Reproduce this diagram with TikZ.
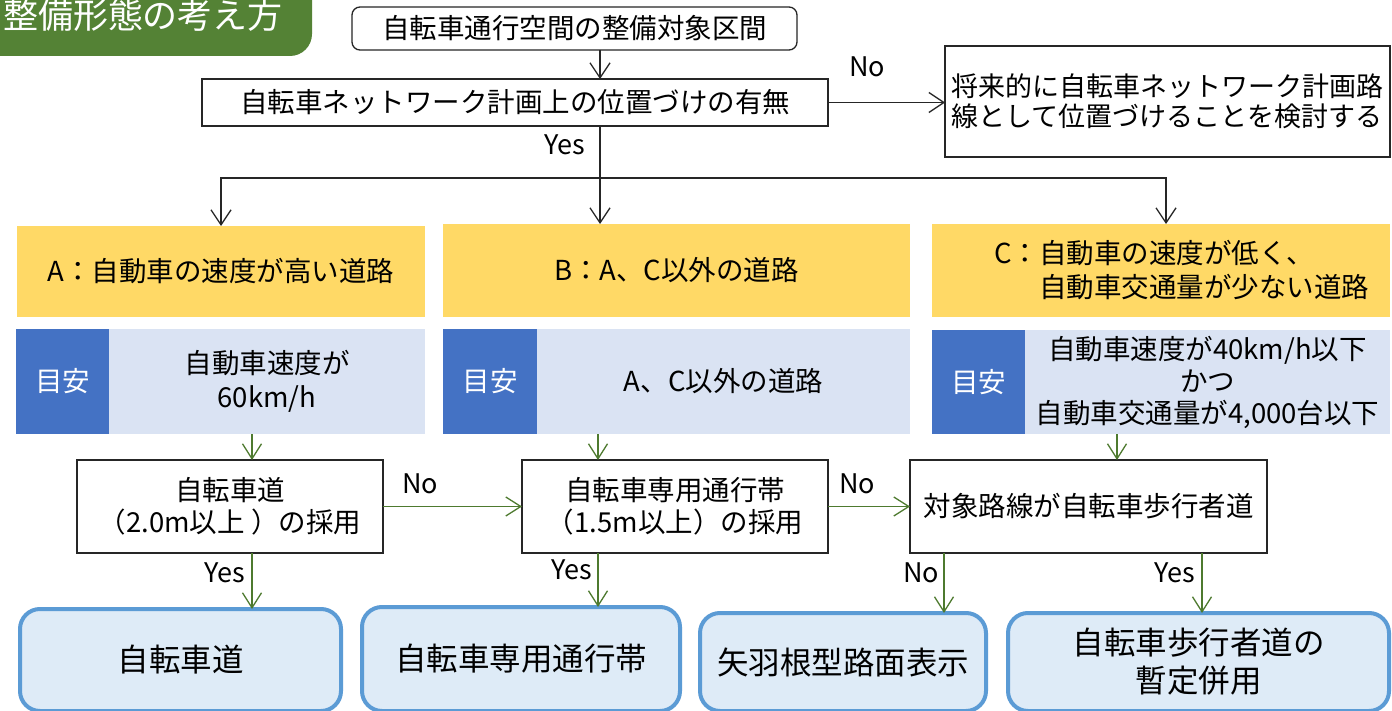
\documentclass[tikz,border=0pt]{standalone}
\usepackage{fontspec}
\setmainfont{Noto Sans CJK JP}
\usetikzlibrary{arrows.meta,calc}
\definecolor{tgreen}{HTML}{548235}
\definecolor{ayellow}{HTML}{FFD966}
\definecolor{dblue}{HTML}{4472C4}
\definecolor{lblue}{HTML}{DAE3F3}
\definecolor{rfill}{HTML}{DEEBF7}
\definecolor{rborder}{HTML}{5B9BD5}
\definecolor{agreen}{HTML}{4E7A2F}
\begin{document}
\begin{tikzpicture}[x=1pt,y=-1pt,
  every node/.style={inner sep=0pt, outer sep=0pt},
  txt/.style={font=\fontsize{27.5}{32}\selectfont, align=center},
  wbox/.style={draw=black!85, line width=1.3pt, fill=white, txt},
  ybox/.style={fill=ayellow, txt},
  dbox/.style={fill=dblue, text=white, txt},
  lbox/.style={fill=lblue, txt},
  rbox/.style={draw=rborder, line width=4pt, fill=rfill, rounded corners=20pt, font=\fontsize{31.5}{38}\selectfont, align=center},
  lab/.style={font=\fontsize{27}{30}\selectfont},
  karr/.style={draw=black!85, line width=1.3pt, -{Straight Barb[length=15pt,width=20pt]}},
  garr/.style={draw=agreen, line width=1.3pt, -{Straight Barb[length=15pt,width=19pt]}},
]
\useasboundingbox (0,0) rectangle (1392,711);
\clip (0,0) rectangle (1392,711);
\fill[white] (0,0) rectangle (1392,711);

% title
\node[fill=tgreen, rounded corners=22pt, minimum width=342pt, minimum height=86pt] (title) at (141,13) {};
\node[text=white, font=\fontsize{35}{40}\selectfont] (ttext) at (143,15) {整備形態の考え方};

% top flow
\node[wbox, rounded corners=8pt, minimum width=445pt, minimum height=43pt] (top) at (574.5,28.5) {自転車通行空間の整備対象区間};
\node[wbox, minimum width=626pt, minimum height=47pt] (net) at (515,102.5) {自転車ネットワーク計画上の位置づけの有無};
\node[wbox, minimum width=445pt, minimum height=111pt, align=left, font=\fontsize{27}{30}\selectfont] (fut) at (1167.5,101.5) {将来的に自転車ネットワーク計画路\\線として位置づけることを検討する};

% categories
\node[ybox, minimum width=408pt, minimum height=91pt] (A) at (221,271.5) {A：自動車の速度が高い道路};
\node[ybox, minimum width=467pt, minimum height=93pt] (B) at (676.5,270.5) {B：A、C以外の道路};
\node[ybox, minimum width=458pt, minimum height=93pt] (C) at (1161,270.5) {};
\node[txt, font=\fontsize{27.5}{34}\selectfont, anchor=west, align=left] (Ct) at ($(C.west)+(62,0)$) {C：自動車の速度が低く、\\\hphantom{C：}自動車交通量が少ない道路};

% guidelines
\node[dbox, minimum width=93pt, minimum height=105pt] (gA) at (62.5,381.5) {目安};
\node[lbox, font=\fontsize{27.5}{34}\selectfont, minimum width=316pt, minimum height=105pt] (mA) at (267,381.5) {自動車速度が\\60km/h};
\node[dbox, minimum width=94pt, minimum height=105pt] (gB) at (490,381.5) {目安};
\node[lbox, minimum width=373pt, minimum height=105pt] (mB) at (723.5,381.5) {A、C以外の道路};
\node[dbox, minimum width=93pt, minimum height=104pt] (gC) at (978.5,382) {目安};
\node[lbox, minimum width=365pt, minimum height=104pt] (mC) at (1207.5,382) {自動車速度が40km/h以下\\かつ\\自動車交通量が4,000台以下};

% decisions
\node[wbox, minimum width=306pt, minimum height=93pt] (d1) at (230,506.5) {自転車道\\（2.0m以上 ）の採用};
\node[wbox, minimum width=306pt, minimum height=93pt] (d2) at (675,506.5) {自転車専用通行帯\\（1.5m以上）の採用};
\node[wbox, minimum width=357pt, minimum height=93pt] (d3) at (1088.5,506.5) {対象路線が自転車歩行者道};

% results
\node[rbox, minimum width=321pt, minimum height=102pt] (r1) at (180.5,660) {自転車道};
\node[rbox, minimum width=318pt, minimum height=104pt] (r2) at (521,659) {自転車専用通行帯};
\node[rbox, minimum width=286pt, minimum height=98pt] (r3) at (843,662) {矢羽根型路面表示};
\node[rbox, minimum width=381pt, minimum height=98pt] (r4) at (1198.5,662) {自転車歩行者道の\\暫定併用};

% helper coordinates
\coordinate (sp) at (600,178);
\coordinate (xc1) at (1166,0);
\coordinate (xa) at (252,0);
\coordinate (xb) at (598,0);
\coordinate (xc) at (1117,0);
\coordinate (xd) at (944,0);
\coordinate (xe) at (1202,0);

% black connectors
\draw[karr] (top.south -| sp) -- (net.north -| sp);
\draw[karr] (net.east) -- (net.east -| fut.west);
\draw[karr] (net.south -| sp) -- (B.north -| sp);
\draw[karr] (sp) -| (A.north);
\draw[karr] (sp) -| (C.north -| xc1);

% green connectors
\draw[garr] (mA.south -| xa) -- (d1.north -| xa);
\draw[garr] (mB.south -| xb) -- (d2.north -| xb);
\draw[garr] (mC.south -| xc) -- (d3.north -| xc);
\draw[garr] (d1.east) -- (d2.west);
\draw[garr] (d2.east) -- (d3.west);
\draw[garr] (d1.south -| xa) -- (r1.north -| xa);
\draw[garr] (d2.south -| xb) -- (r2.north -| xb);
\draw[garr] (d3.south -| xd) -- (r3.north -| xd);
\draw[garr] (d3.south -| xe) -- (r4.north -| xe);

% labels
\node[lab] (l1) at (867,67) {No};
\node[lab] (l2) at (565,145) {Yes};
\node[lab] (l3) at (420,484) {No};
\node[lab] (l4) at (857,484) {No};
\node[lab] (l5) at (225,573) {Yes};
\node[lab] (l6) at (572,570) {Yes};
\node[lab] (l7) at (921,573) {No};
\node[lab] (l8) at (1175,573) {Yes};
\end{tikzpicture}
\end{document}
